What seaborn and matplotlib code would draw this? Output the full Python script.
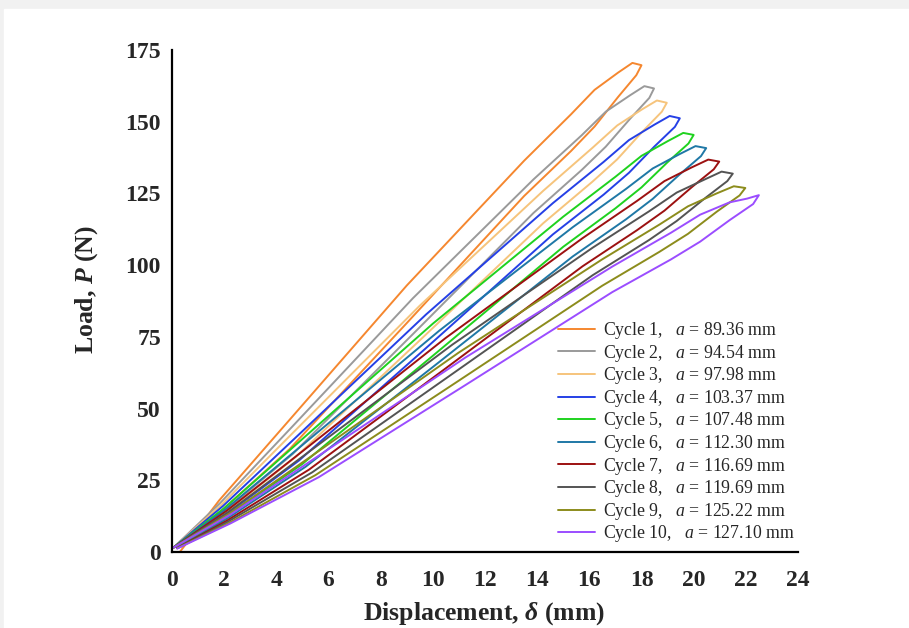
import pandas as pd
import seaborn as sns
from matplotlib import pyplot as plt
from matplotlib.patches import Rectangle
from matplotlib.ticker import MultipleLocator

# === DATA
cycles = ['Cycle 1', 'Cycle 2', 'Cycle 3', 'Cycle 4', 'Cycle 5',
          'Cycle 6', 'Cycle 7', 'Cycle 8', 'Cycle 9', 'Cycle 10']
crack_length = ['89.36', '94.54', '97.98', '103.37', '107.48',
                '112.30', '116.69', '119.69', '125.22', '127.10']

# each loop: loading branch up to the tip, then the unloading branch back
disp = [
    [0.3, 1.8, 4.5, 9.0, 13.5, 15.3, 16.2, 17.1, 17.65, 18.0,
     17.8, 17.1, 16.2, 15.3, 13.5, 9.0, 4.5, 1.8, 0.2],
    [0.05, 1.85, 4.62, 9.24, 13.86, 15.71, 16.63, 17.56, 18.11, 18.48,
     18.30, 17.56, 16.63, 15.71, 13.86, 9.24, 4.62, 1.85, 0.18],
    [0.05, 1.90, 4.74, 9.49, 14.23, 16.12, 17.07, 18.02, 18.59, 18.97,
     18.78, 18.02, 17.07, 16.12, 14.23, 9.49, 4.74, 1.90, 0.19],
    [0.05, 1.95, 4.87, 9.74, 14.60, 16.55, 17.52, 18.50, 19.08, 19.47,
     19.28, 18.50, 17.52, 16.55, 14.60, 9.74, 4.87, 1.95, 0.19],
    [0.05, 2.0, 5.0, 10.0, 15.0, 17.0, 18.0, 19.0, 19.6, 20.0,
     19.8, 19.0, 18.0, 17.0, 15.0, 10.0, 5.0, 2.0, 0.2],
    [0.05, 2.05, 5.12, 10.24, 15.36, 17.41, 18.43, 19.46, 20.07, 20.48,
     20.28, 19.46, 18.43, 17.41, 15.36, 10.24, 5.12, 2.05, 0.2],
    [0.05, 2.10, 5.25, 10.49, 15.74, 17.83, 18.88, 19.93, 20.56, 20.98,
     20.77, 19.93, 18.88, 17.83, 15.74, 10.49, 5.25, 2.10, 0.2],
    [0.05, 2.15, 5.38, 10.75, 16.13, 18.28, 19.35, 20.43, 21.07, 21.5,
     21.29, 20.43, 19.35, 18.28, 16.13, 10.75, 5.38, 2.15, 0.2],
    [0.05, 2.20, 5.50, 10.99, 16.49, 18.68, 19.78, 20.88, 21.54, 21.98,
     21.76, 20.88, 19.78, 18.68, 16.49, 10.99, 5.50, 2.20, 0.2],
    [0.05, 2.25, 5.63, 11.25, 16.88, 19.13, 20.25, 21.38, 22.05, 22.5,
     22.28, 21.38, 20.25, 19.13, 16.88, 11.25, 5.63, 2.25, 0.2],
]
load = [
    [0.0, 17.9, 46.0, 92.9, 136.4, 152.6, 161.1, 167.1, 170.5, 169.7,
     166.2, 158.6, 148.3, 139.8, 124.1, 79.8, 35.8, 13.6, 1.7],
    [1.5, 17.1, 43.8, 88.5, 129.9, 145.3, 153.5, 159.2, 162.4, 161.6,
     158.3, 151.0, 141.3, 133.2, 118.2, 76.0, 34.1, 13.0, 1.6],
    [1.5, 16.5, 42.5, 85.8, 125.9, 140.9, 148.7, 154.3, 157.4, 156.6,
     153.5, 146.4, 136.9, 129.1, 114.6, 73.7, 33.1, 12.6, 1.6],
    [1.5, 16.0, 41.0, 82.8, 121.6, 136.0, 143.6, 149.0, 152.0, 151.2,
     148.2, 141.4, 132.2, 124.6, 110.7, 71.1, 31.9, 12.2, 1.5],
    [1.5, 15.3, 39.4, 79.6, 116.9, 130.8, 138.1, 143.2, 146.1, 145.4,
     142.4, 135.9, 127.1, 119.8, 106.4, 68.4, 30.7, 11.7, 1.5],
    [1.5, 14.9, 38.2, 77.1, 113.2, 126.6, 133.7, 138.7, 141.5, 140.8,
     138.0, 131.6, 123.1, 116.0, 103.0, 66.2, 29.7, 11.3, 1.4],
    [1.5, 14.4, 36.9, 74.6, 109.4, 122.4, 129.3, 134.1, 136.8, 136.1,
     133.4, 127.2, 119.0, 112.2, 99.6, 64.0, 28.7, 10.9, 1.4],
    [1.5, 13.9, 35.8, 72.3, 106.1, 118.7, 125.3, 129.9, 132.6, 131.9,
     129.3, 123.3, 115.4, 108.7, 96.5, 62.1, 27.8, 10.6, 1.3],
    [1.5, 13.4, 34.4, 69.5, 102.0, 114.1, 120.5, 125.0, 127.5, 126.9,
     124.3, 118.6, 110.9, 104.6, 92.8, 59.7, 26.8, 10.2, 1.3],
    [1.5, 13.1, 33.6, 67.8, 99.5, 111.3, 117.6, 121.9, 123.2, 124.4,
     121.3, 115.7, 108.2, 102.0, 90.6, 58.2, 26.1, 10.0, 1.2],
]
colors = ['#f5872f', '#9a9a9a', '#f6c47c', '#2540e6', '#1fd21f',
          '#1f78a6', '#9c1111', '#545454', '#8c8c1c', '#9b4dff']

# Build long table
labels = ['{},   $a$ = {} mm'.format(c, a) for c, a in zip(cycles, crack_length)]
rows = []
for lab, xs, ys in zip(labels, disp, load):
    for i, (x, y) in enumerate(zip(xs, ys)):
        rows.append({'cycle': lab, 'step': i, 'disp': x, 'load': y})
df = pd.DataFrame(rows)

# === PLOT
sns.set_style('white')
plt.rcParams['font.family'] = ['Liberation Serif', 'DejaVu Serif']
plt.rcParams['mathtext.fontset'] = 'custom'
plt.rcParams['mathtext.rm'] = 'Liberation Serif'
plt.rcParams['mathtext.it'] = 'Liberation Serif:italic'
plt.rcParams['mathtext.bf'] = 'Liberation Serif:bold:italic'

fig = plt.figure(figsize=(9.09, 6.28), dpi=100, facecolor='#f1f1f1')
fig.patches.append(Rectangle((4 / 909, 0), 1, 1 - 9 / 628,
                             transform=fig.transFigure, color='white',
                             zorder=-10))
ax = fig.add_axes([172 / 909, 76 / 628, 626 / 909, 502 / 628])
ax.set_facecolor('none')

sns.lineplot(data=df, x='disp', y='load', hue='cycle', units='cycle',
             estimator=None, sort=False, palette=colors, linewidth=1.4,
             ax=ax)

ax.set_xlim(0, 24)
ax.set_ylim(0, 175)
ax.xaxis.set_major_locator(MultipleLocator(2))
ax.xaxis.set_minor_locator(MultipleLocator(1))
ax.yaxis.set_major_locator(MultipleLocator(25))
ax.yaxis.set_minor_locator(MultipleLocator(12.5))
for s in ['top', 'right']:
    ax.spines[s].set_visible(False)
for s in ['left', 'bottom']:
    ax.spines[s].set_linewidth(1.6)
    ax.spines[s].set_color('black')
ax.tick_params(which='major', direction='in', length=7, width=1.6,
               labelsize=17)
ax.tick_params(axis='x', which='major', pad=13)
ax.tick_params(axis='y', which='major', pad=8)
ax.tick_params(which='minor', direction='in', length=4, width=1.4)
for t in ax.get_xticklabels() + ax.get_yticklabels():
    t.set_fontweight('bold')

ax.set_xlabel(r'Displacement, $\mathbf{\delta}$ (mm)', fontsize=18.5,
              fontweight='bold')
ax.set_ylabel(r'Load, $\mathbf{P}$ (N)', fontsize=18.5, fontweight='bold')
ax.xaxis.set_label_coords(0.498, -0.096)
ax.yaxis.set_label_coords(-0.115, 0.522)

ax.legend(loc='upper left', bbox_to_anchor=(558 / 909, 1 - 320 / 628),
          bbox_transform=fig.transFigure, frameon=False, fontsize=12.8,
          handlelength=2.1, handletextpad=0.45, labelspacing=0.09,
          borderpad=0, borderaxespad=0)

plt.savefig('out.png', dpi=100, facecolor=fig.get_facecolor())
